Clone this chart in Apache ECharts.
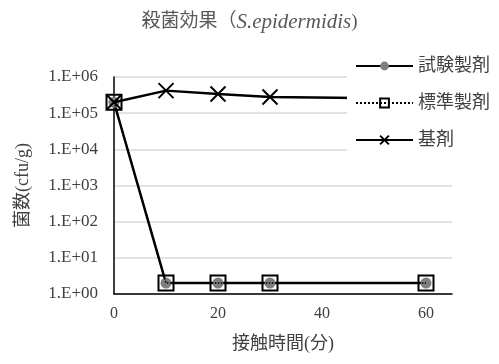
<!DOCTYPE html>
<html>
<head>
<meta charset="utf-8">
<script src="https://cdn.jsdelivr.net/npm/echarts@6/dist/echarts.min.js"></script>
<style>
  html, body { margin: 0; padding: 0; background: #fff; }
  #chart { width: 499px; height: 364px; }
</style>
</head>
<body>
<div id="chart"></div>
<script>
// Contact time (minutes) and bacterial counts (cfu/g)
const times = [0, 10, 20, 30, 60];
const testFormulation = [2e5, 2, 2, 2, 2];      // 試験製剤
const standardFormulation = [2e5, 2, 2, 2, 2];  // 標準製剤
const baseAgent = [2e5, 4.2e5, 3.4e5, 2.8e5, 2.5e5]; // 基剤
const seriesNames = ['試験製剤', '標準製剤', '基剤'];
const yTickLabels = ['1.E+00', '1.E+01', '1.E+02', '1.E+03', '1.E+04', '1.E+05', '1.E+06'];
const xTickLabels = ['0', '20', '40', '60'];

const pairs = arr => times.map((t, i) => [t, arr[i]]);
const FONT = "'Liberation Serif', 'Noto Sans CJK JP', serif";
const TEXT = '#404040';
const CROSS = 'path://M0,0L10,10M10,0L0,10';

const chart = echarts.init(document.getElementById('chart'), null, { renderer: 'canvas' });
chart.setOption({
  animation: false,
  backgroundColor: '#fff',
  title: {
    text: '{a|殺菌効果（}{b|S.epidermidis}{a|)}',
    left: 'center',
    top: 7,
    textStyle: {
      fontWeight: 'normal',
      rich: {
        a: { fontFamily: FONT, fontSize: 19, fontWeight: 'normal', color: '#595959' },
        b: { fontFamily: FONT, fontSize: 21, fontWeight: 'normal', fontStyle: 'italic', color: '#595959' }
      }
    }
  },
  legend: {
    orient: 'vertical',
    left: 347,
    top: 50,
    z: 20,
    padding: [7, 8, 16, 8],
    backgroundColor: '#fff',
    itemWidth: 57,
    itemHeight: 11,
    itemGap: 19,
    data: seriesNames,
    textStyle: { fontFamily: FONT, fontSize: 18, color: TEXT }
  },
  grid: { left: 114, right: 47, top: 77, bottom: 70 },
  xAxis: {
    type: 'value',
    min: 0,
    max: 65,
    interval: 20,
    name: '接触時間(分)',
    nameLocation: 'middle',
    nameGap: 41,
    nameTextStyle: { fontFamily: FONT, fontSize: 18, color: TEXT },
    axisLine: { lineStyle: { color: '#000', width: 1.5 } },
    axisTick: { show: false },
    splitLine: { show: false },
    axisLabel: {
      showMaxLabel: false,
      margin: 12,
      fontFamily: FONT, fontSize: 16, color: TEXT,
      formatter: v => {
        const i = xTickLabels.indexOf(String(v));
        return i >= 0 ? xTickLabels[i] : '';
      }
    }
  },
  yAxis: {
    type: 'log',
    logBase: 10,
    min: 1,
    max: 1e6,
    name: '菌数(cfu/g)',
    nameLocation: 'middle',
    nameGap: 82,
    nameTextStyle: { fontFamily: FONT, fontSize: 18, color: TEXT },
    axisLine: { show: true, lineStyle: { color: '#000', width: 1.5 } },
    axisTick: { show: false },
    splitLine: { lineStyle: { color: '#d9d9d9', width: 1.5 } },
    axisLabel: {
      margin: 16,
      fontFamily: FONT, fontSize: 17, color: TEXT,
      formatter: v => yTickLabels[Math.round(Math.log10(v))] || ''
    }
  },
  series: [
    {
      name: seriesNames[0],
      type: 'line',
      data: pairs(testFormulation),
      symbol: 'circle',
      symbolSize: 11,
      lineStyle: { color: '#000', width: 2.5 },
      itemStyle: { color: '#7f7f7f', borderColor: '#7f7f7f', borderWidth: 0 },
      z: 2
    },
    {
      name: seriesNames[1],
      type: 'line',
      data: pairs(standardFormulation),
      symbol: 'rect',
      symbolSize: 15,
      lineStyle: { color: '#000', width: 1.5, type: 'dotted' },
      itemStyle: { color: 'rgba(0,0,0,0)', borderColor: '#000', borderWidth: 2 },
      z: 3
    },
    {
      name: seriesNames[2],
      type: 'line',
      data: pairs(baseAgent),
      symbol: CROSS,
      symbolSize: 15,
      lineStyle: { color: '#000', width: 2.5 },
      itemStyle: { color: 'rgba(0,0,0,0)', borderColor: '#000', borderWidth: 2 },
      z: 4
    }
  ]
});
</script>
</body>
</html>
